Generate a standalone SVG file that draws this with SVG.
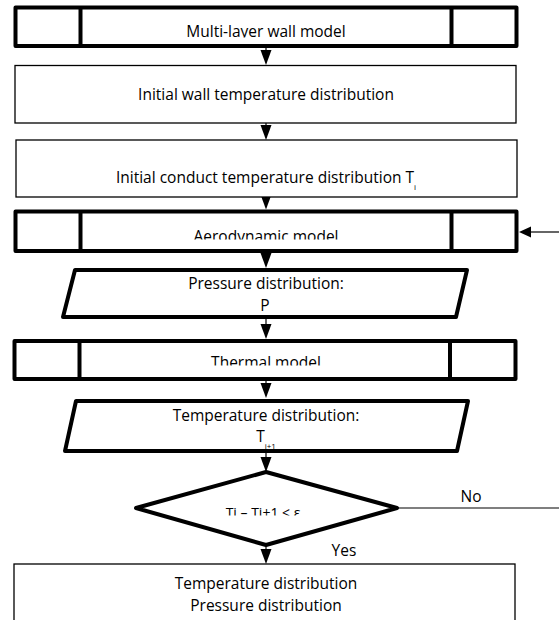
<svg xmlns="http://www.w3.org/2000/svg" xmlns:xlink="http://www.w3.org/1999/xlink" width="559" height="620" viewBox="0 0 559 620">
<style>
.thick{fill:#fff;stroke:#000;stroke-width:4;stroke-linejoin:round}
.thin{fill:#fff;stroke:#000;stroke-width:1.3}
.sep{stroke:#000;stroke-width:4}
.ln{stroke:#000;stroke-width:1.2;fill:none}
.t{font-family:"Open Sans","Liberation Sans",Arial,sans-serif;font-size:15.5px;fill:#000;text-anchor:middle}
.sub{font-size:8px}
</style>
<defs>
<path id="ah" d="M-5.5,-15 L5.5,-15 L0,0 Z" fill="#000"/>
<clipPath id="c1"><rect x="0" y="0" width="559" height="37.5"/></clipPath>
<clipPath id="c2"><rect x="0" y="200" width="559" height="39.5"/></clipPath>
<clipPath id="c3"><rect x="0" y="340" width="559" height="25.5"/></clipPath>
<clipPath id="c4"><rect x="0" y="425" width="559" height="24"/></clipPath>
<clipPath id="c5"><rect x="0" y="490" width="559" height="25.5"/></clipPath>
</defs>
<rect width="559" height="620" fill="#fff"/>
<g id="connectors">
<line class="ln" x1="266" y1="48" x2="266" y2="52"/><use xlink:href="#ah" x="266" y="65"/>
<line class="ln" x1="266" y1="123" x2="266" y2="127"/><use xlink:href="#ah" x="266" y="140"/>
<use xlink:href="#ah" x="266" y="209.5"/>
<line class="ln" x1="266" y1="253" x2="266" y2="256"/><use xlink:href="#ah" x="266" y="268"/>
<line class="ln" x1="266" y1="319" x2="266" y2="326"/><use xlink:href="#ah" x="266" y="339"/>
<line class="ln" x1="266" y1="381" x2="266" y2="385"/><use xlink:href="#ah" x="266" y="398"/>
<line class="ln" x1="266" y1="452" x2="266" y2="460"/><use xlink:href="#ah" x="266" y="472"/>
<line class="ln" x1="266" y1="547" x2="266" y2="550"/><use xlink:href="#ah" x="266" y="564"/>
<line class="ln" x1="397" y1="508" x2="559" y2="508"/>
<line class="ln" x1="559" y1="232" x2="530" y2="232"/>
<path d="M519,232 L531,226.5 L531,237.5 Z" fill="#000"/>
<text class="t" x="471" y="502">No</text>
<text class="t" x="344" y="556">Yes</text>
</g>
<g id="n1">
<rect class="thick" x="15.5" y="7.5" width="501" height="38.5"/>
<line class="sep" x1="80.5" y1="7.5" x2="80.5" y2="46"/>
<line class="sep" x1="451.5" y1="7.5" x2="451.5" y2="46"/>
<text class="t" x="266" y="37" clip-path="url(#c1)">Multi-layer wall model</text>
</g>
<g id="n2">
<rect class="thin" x="15" y="65.5" width="501" height="57.5"/>
<text class="t" x="266" y="100">Initial wall temperature distribution</text>
</g>
<g id="n3">
<rect class="thin" x="16" y="140" width="501" height="57"/>
<text class="t" x="266" y="183">Initial conduct temperature distribution T<tspan class="sub" dy="7">i</tspan></text>
</g>
<g id="n4">
<rect class="thick" x="15.5" y="211.5" width="501" height="39.5"/>
<line class="sep" x1="80.5" y1="211.5" x2="80.5" y2="251"/>
<line class="sep" x1="451.5" y1="211.5" x2="451.5" y2="251"/>
<text class="t" x="266" y="242" clip-path="url(#c2)">Aerodynamic model</text>
</g>
<g id="n5">
<polygon class="thick" points="75,270 467,270 456,317 63,317"/>
<text class="t" x="266" y="289">Pressure distribution:</text>
<text class="t" x="265" y="311">P</text>
</g>
<g id="n6">
<rect class="thick" x="14.5" y="341" width="501" height="38"/>
<line class="sep" x1="79.5" y1="341" x2="79.5" y2="379"/>
<line class="sep" x1="450" y1="341" x2="450" y2="379"/>
<text class="t" x="266" y="368" clip-path="url(#c3)">Thermal model</text>
</g>
<g id="n7">
<polygon class="thick" points="76,401 468,401 457,451 65,451"/>
<text class="t" x="266" y="421">Temperature distribution:</text>
<text class="t" x="266" y="442" clip-path="url(#c4)">T<tspan class="sub" dy="7">i+1</tspan></text>
</g>
<g id="n8">
<polygon class="thick" points="266,472 397,508 266,545 136,508"/>
<text class="t" x="263" y="517.5" style="font-size:14px" clip-path="url(#c5)">Ti – Ti+1 &lt; ε</text>
</g>
<g id="n9">
<rect class="thin" x="14" y="564" width="501" height="70"/>
<text class="t" x="266" y="589">Temperature distribution</text>
<text class="t" x="266" y="611">Pressure distribution</text>
</g>
</svg>
